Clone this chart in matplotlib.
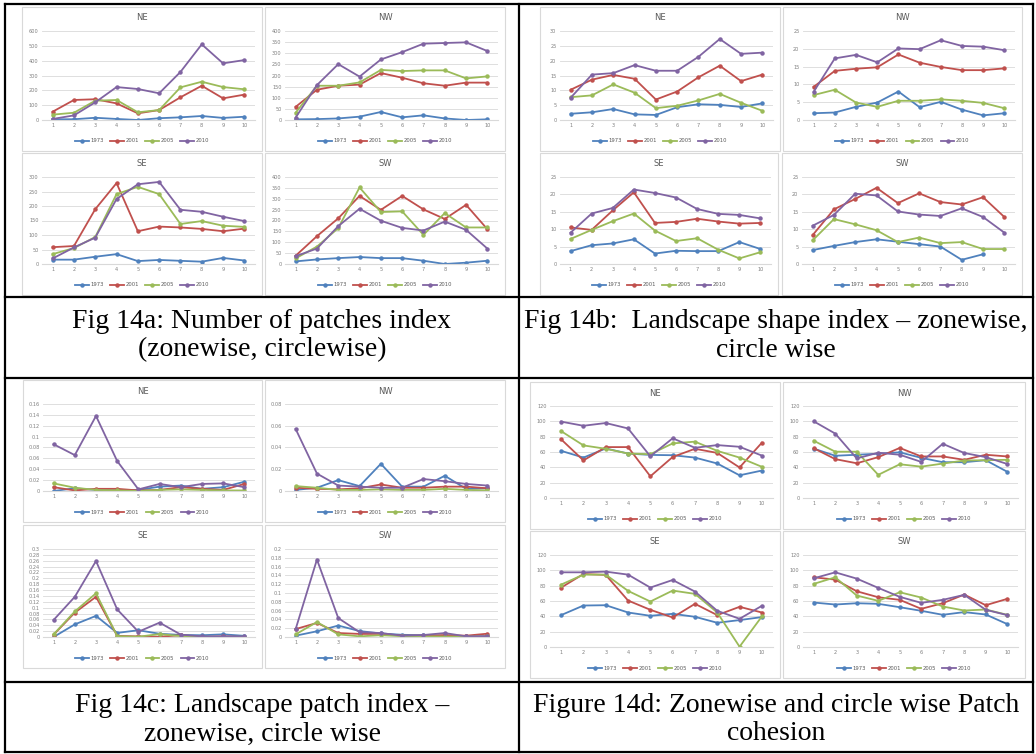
import numpy as np
import matplotlib.pyplot as plt
from matplotlib.lines import Line2D
from matplotlib.patches import Rectangle
from matplotlib.ticker import FuncFormatter

W, H = 1036, 754
nan = np.nan

circles = list(range(1, 11))
years = ["1973", "2001", "2005", "2010"]
colors = ["#4F81BD", "#C0504D", "#9BBB59", "#8064A2"]

# Fig 14a: number of patches (rows = 1973, 2001, 2005, 2010)
a_NE = [[5, 5, 15, 7, 0, 12, 18, 27, 14, 22],
        [56, 135, 140, 112, 45, 67, 153, 231, 146, 171],
        [36, 49, 130, 135, 52, 67, 220, 258, 222, 207],
        [7, 31, 119, 222, 209, 180, 324, 510, 382, 404]]
a_NW = [[3, 4, 7, 15, 36, 12, 21, 7, 0, 3],
        [59, 136, 154, 159, 211, 190, 165, 154, 168, 168],
        [33, 154, 154, 169, 225, 220, 223, 223, 187, 196],
        [11, 157, 251, 195, 272, 305, 343, 346, 349, 310]]
a_SE = [[15, 15, 25, 34, 10, 14, 11, 8, 21, 12],
        [58, 62, 189, 279, 113, 129, 126, 121, 113, 122],
        [34, 55, 93, 241, 266, 241, 138, 148, 132, 128],
        [19, 57, 91, 224, 275, 283, 187, 180, 163, 148]]
a_SW = [[12, 21, 27, 32, 27, 27, 15, 0, 6, 15],
        [38, 128, 210, 313, 249, 313, 251, 207, 272, 160],
        [26, 80, 165, 352, 239, 242, 134, 234, 168, 168],
        [36, 71, 174, 254, 199, 166, 154, 195, 157, 71]]

# Fig 14b: landscape shape index
b_NE = [[2.1, 2.6, 3.7, 1.9, 1.7, 4.3, 5.3, 5.1, 4.4, 5.6],
        [10.2, 13.6, 15.2, 13.9, 6.9, 9.6, 14.4, 18.3, 13.1, 15.3],
        [7.7, 8.3, 12.0, 9.2, 4.0, 4.8, 6.6, 8.8, 5.8, 3.1],
        [7.5, 15.3, 15.8, 18.5, 16.6, 16.6, 21.3, 27.3, 22.3, 22.7]]
b_NW = [[1.9, 2.1, 3.7, 4.9, 8.0, 3.6, 5.1, 2.9, 1.3, 1.9],
        [9.3, 13.8, 14.4, 14.8, 18.4, 16.1, 14.9, 14.0, 14.0, 14.5],
        [7.0, 8.5, 4.9, 3.7, 5.4, 5.4, 5.8, 5.4, 4.8, 3.3],
        [7.9, 17.3, 18.3, 16.2, 20.1, 19.9, 22.4, 20.8, 20.6, 19.6]]
b_SE = [[3.7, 5.4, 5.9, 7.1, 3.0, 3.8, 3.7, 3.7, 6.3, 4.3],
        [10.5, 9.8, 15.4, 20.6, 11.8, 12.1, 13.0, 12.2, 11.6, 11.8],
        [7.2, 9.8, 12.3, 14.5, 9.6, 6.6, 7.4, 4.1, 1.6, 3.4],
        [9.0, 14.5, 16.1, 21.4, 20.4, 19.1, 15.8, 14.4, 14.1, 13.1]]
b_SW = [[4.0, 5.2, 6.3, 7.1, 6.4, 5.7, 5.0, 1.2, 2.8, nan],
        [8.3, 15.7, 18.7, 21.9, 17.5, 20.3, 17.8, 17.1, 19.2, 13.5],
        [6.8, 12.9, 11.4, 9.7, 6.3, 7.6, 6.0, 6.3, 4.3, 4.3],
        [11.0, 14.1, 20.2, 19.7, 15.1, 14.2, 13.8, 16.0, 13.5, 9.0]]

# Fig 14c: landscape patch index
c_NE = [[0.0, 0.005, 0.002, 0.001, 0.002, 0.008, 0.010, 0.004, 0.007, 0.017],
        [0.007, 0.001, 0.004, 0.004, 0.001, 0.002, 0.007, 0.004, 0.002, 0.013],
        [0.014, 0.006, 0.002, 0.001, 0.0, 0.002, 0.003, 0.002, 0.001, 0.001],
        [0.086, 0.066, 0.138, 0.055, 0.003, 0.013, 0.007, 0.013, 0.014, 0.007]]
c_NW = [[0.001, 0.003, 0.010, 0.0045, 0.025, 0.004, 0.004, 0.014, 0.002, 0.0025],
        [0.003, 0.002, 0.0015, 0.0025, 0.006, 0.003, 0.003, 0.004, 0.004, 0.0025],
        [0.0045, 0.003, 0.001, 0.001, 0.0015, 0.001, 0.001, 0.002, 0.001, 0.0005],
        [0.057, 0.016, 0.005, 0.004, 0.003, 0.003, 0.011, 0.009, 0.0065, 0.005]]
c_SE = [[0.0, 0.043, 0.072, 0.014, 0.023, 0.011, 0.007, 0.006, 0.009, 0.004],
        [0.008, 0.083, 0.137, 0.004, 0.002, 0.001, 0.006, 0.0, 0.002, 0.0],
        [0.009, 0.087, 0.149, 0.003, 0.001, 0.010, 0.003, 0.001, 0.0, 0.001],
        [0.058, 0.137, 0.259, 0.094, 0.018, 0.049, 0.008, 0.002, 0.002, 0.002]]
c_SW = [[0.003, 0.013, 0.026, 0.0135, 0.008, 0.005, 0.004, 0.002, 0.0015, 0.0015],
        [0.018, 0.032, 0.009, 0.007, 0.007, 0.003, 0.003, 0.0045, 0.003, 0.0075],
        [0.006, 0.034, 0.006, 0.0015, 0.004, 0.002, 0.0015, 0.001, 0.001, 0.0015],
        [0.018, 0.176, 0.043, 0.011, 0.009, 0.003, 0.0045, 0.009, 0.0015, 0.002]]

# Fig 14d: patch cohesion
d_NE = [[61.5, 52.7, 64.6, 58, 56.2, 55.8, 52.7, 45, 29.6, 35.8],
        [76.5, 49, 66.4, 66.4, 28.3, 53.5, 64.2, 58.8, 39.8, 72.1],
        [87.2, 68.6, 64.2, 58, 57.1, 71.2, 73.5, 61.5, 52.7, 40.7],
        [99.6, 94.2, 97.8, 90.7, 54.4, 77.9, 65.5, 69.0, 66.8, 55.3]]
d_NW = [[64.4, 55.1, 56.4, 57.8, 59.6, 52.4, 46.7, 46.7, 49.3, 34.2],
        [64.9, 50.7, 45.3, 53.3, 65.3, 54.2, 54.2, 49.8, 56.4, 54.2],
        [74.7, 60.4, 60.4, 30.2, 44, 40.9, 44.9, 48.9, 49.3, 49.8],
        [100, 84, 51.6, 59.1, 56.4, 47.1, 70.7, 58.7, 53.3, 44.4]]
d_SE = [[41.6, 54.1, 54.5, 45, 40.7, 43.3, 39.4, 31.6, 35.1, 39],
        [77.5, 95.2, 94, 60.6, 48.5, 38.5, 56.3, 41.6, 52.4, 45],
        [81.4, 94.4, 94.4, 73.2, 59.3, 73.6, 69.3, 45, 0.4, 39.8],
        [97.4, 97.4, 98.3, 94.4, 77.5, 87.4, 72.3, 47.2, 36.8, 53.7]]
d_SW = [[58, 55.4, 57.1, 56.3, 51.9, 47.2, 42, 45.5, 42.4, 29.9],
        [90.9, 87.9, 72.7, 64.9, 61.5, 49.8, 57.1, 68.4, 54.5, 62.8],
        [82.3, 90.9, 67.1, 60.2, 71.4, 64.5, 52.8, 47.6, 48.9, 42],
        [89.6, 97.4, 89.2, 77.1, 65.4, 57.6, 61.5, 68, 48.5, 41.6]]

captions = [["Fig 14a: Number of patches index", "(zonewise, circlewise)"],
            ["Fig 14b:  Landscape shape index \u2013 zonewise,", "circle wise"],
            ["Fig 14c: Landscape patch index \u2013", "zonewise, circle wise"],
            ["Figure 14d: Zonewise and circle wise Patch", "cohesion"]]

fig = plt.figure(figsize=(W / 100, H / 100), dpi=100)


def fx(x):
    return x / W


def fy(y):
    return 1 - y / H


def chart(box, title, series, ymax, step):
    x0, y0, x1, y1 = box
    fig.add_artist(Rectangle((fx(x0), fy(y1)), (x1 - x0) / W, (y1 - y0) / H,
                             transform=fig.transFigure, facecolor="white",
                             edgecolor="#D9D9D9", lw=0.8, zorder=-1))
    ax = fig.add_axes([fx(x0 + 20), fy(y1 - 31), (x1 - x0 - 27) / W, (y1 - y0 - 55) / H])
    ax.patch.set_visible(False)
    for vals, c, yr in zip(series, colors, years):
        ax.plot(circles, vals, color=c, lw=1.3, marker="o", ms=2.2, label=yr)
    ax.set_xlim(0.5, 10.5)
    ax.set_ylim(0, ymax)
    ax.set_xticks(circles)
    ax.set_yticks(np.arange(0, ymax + step / 2, step))
    ax.yaxis.set_major_formatter(FuncFormatter(lambda v, p: "{:g}".format(round(v, 4))))
    ax.grid(axis="y", color="#D9D9D9", lw=0.6)
    ax.set_axisbelow(True)
    for s in ["top", "right", "left"]:
        ax.spines[s].set_visible(False)
    ax.spines["bottom"].set_color("#D9D9D9")
    ax.tick_params(length=0, labelsize=3.6, colors="#7F7F7F", pad=2.5)
    fig.text(fx((x0 + x1) / 2), fy(y0 + 11), title, ha="center", va="center",
             fontsize=6, color="#595959")
    ax.legend(loc="center", bbox_to_anchor=(fx((x0 + x1) / 2), fy(y1 - 10)),
              bbox_transform=fig.transFigure, ncol=4, frameon=False, fontsize=3.8,
              handlelength=2.6, columnspacing=1.2, handletextpad=0.3,
              labelcolor="#595959")
    return ax


# top left: Fig 14a
chart((22, 7, 262, 151), "NE", a_NE, 600, 100)
chart((265, 7, 505, 151), "NW", a_NW, 400, 50)
chart((22, 153, 262, 295), "SE", a_SE, 300, 50)
chart((265, 153, 505, 295), "SW", a_SW, 400, 50)
# top right: Fig 14b
chart((540, 7, 780, 151), "NE", b_NE, 30, 5)
chart((783, 7, 1022, 151), "NW", b_NW, 25, 5)
chart((540, 153, 778, 295), "SE", b_SE, 25, 5)
chart((782, 153, 1022, 295), "SW", b_SW, 25, 5)
# bottom left: Fig 14c
chart((23, 380, 262, 522), "NE", c_NE, 0.16, 0.02)
chart((265, 380, 505, 522), "NW", c_NW, 0.08, 0.02)
chart((23, 525, 262, 668), "SE", c_SE, 0.3, 0.02)
chart((265, 525, 505, 668), "SW", c_SW, 0.2, 0.02)
# bottom right: Fig 14d
chart((530, 382, 780, 529), "NE", d_NE, 120, 20)
chart((783, 382, 1025, 529), "NW", d_NW, 120, 20)
chart((530, 531, 780, 678), "SE", d_SE, 120, 20)
chart((783, 531, 1025, 678), "SW", d_SW, 120, 20)

# table grid
left, right, top, bottom, mid = 5, 1033, 4, 752, 519
for y in [top, 297, 378, 682, bottom]:
    fig.add_artist(Line2D([fx(left), fx(right)], [fy(y), fy(y)], color="black", lw=1.6,
                          transform=fig.transFigure, zorder=5))
for x in [left, mid, right]:
    fig.add_artist(Line2D([fx(x), fx(x)], [fy(top), fy(bottom)], color="black", lw=1.6,
                          transform=fig.transFigure, zorder=5))

# captions, two lines per cell
for cx, (ya, yb), lines in zip([262, 776, 262, 776],
                               [(321, 350), (321, 350), (705, 734), (705, 734)], captions):
    for yy, txt in zip((ya, yb), lines):
        fig.text(fx(cx), fy(yy), txt, ha="center", va="center", fontsize=20,
                 family="Liberation Serif")

fig.savefig("out.png", dpi=100)
